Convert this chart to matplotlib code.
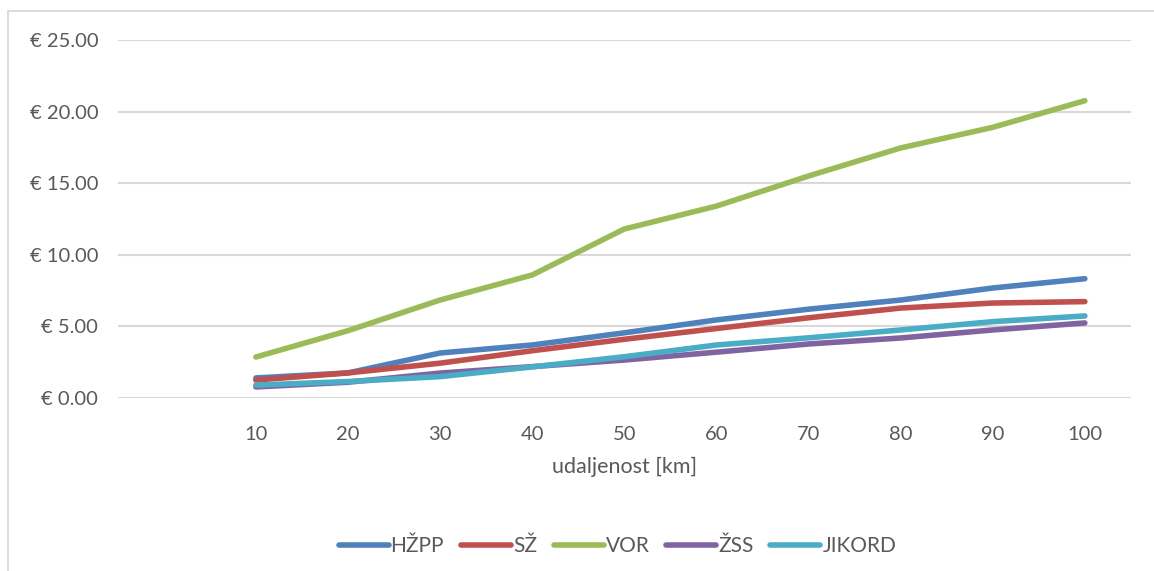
import matplotlib.pyplot as plt
import matplotlib.patches as patches
from matplotlib.ticker import FuncFormatter

plt.rcParams['font.family'] = ['Lato', 'DejaVu Sans']

# distance categories (first slot is blank in the source chart)
distance = ['', '10', '20', '30', '40', '50', '60', '70', '80', '90', '100']
km = [10, 20, 30, 40, 50, 60, 70, 80, 90, 100]

hzpp = [1.40, 1.75, 3.14, 3.70, 4.55, 5.45, 6.20, 6.84, 7.68, 8.33]
sz = [1.25, 1.75, 2.43, 3.30, 4.10, 4.85, 5.60, 6.28, 6.63, 6.73]
vor = [2.86, 4.70, 6.84, 8.59, 11.80, 13.40, 15.50, 17.46, 18.90, 20.76]
zss = [0.77, 1.10, 1.74, 2.19, 2.65, 3.20, 3.77, 4.19, 4.75, 5.24]
jikord = [0.90, 1.15, 1.49, 2.17, 2.88, 3.70, 4.20, 4.75, 5.33, 5.73]

series = [('HŽPP', hzpp, '#4F81BD'),
          ('SŽ', sz, '#C0504D'),
          ('VOR', vor, '#9BBB59'),
          ('ŽSS', zss, '#8064A2'),
          ('JIKORD', jikord, '#4BACC6')]

txt = '#595959'

fig = plt.figure(figsize=(11.54, 5.71), dpi=100)
ax = fig.add_axes([0.102, 0.303, 0.878, 0.627])

# light frame of the chart area (cut off at right and bottom in the source)
fig.patches.append(patches.Rectangle((0.0065, -0.1), 1.2, 0.1 + 0.980, transform=fig.transFigure,
                                     fill=False, edgecolor='#D9D9D9', linewidth=1.3))

xpos = [distance.index(str(k)) for k in km]
for name, vals, col in series:
    ax.plot(xpos, vals, color=col, linewidth=4.0, solid_capstyle='round',
            solid_joinstyle='round', label=name, zorder=3)

ax.set_xlim(-0.5, len(distance) - 0.5)
ax.set_ylim(0, 25)
ax.set_yticks([0, 5, 10, 15, 20, 25])
ax.yaxis.set_major_formatter(FuncFormatter(lambda v, p: f'€ {v:.2f}'))
ax.set_xticks(range(len(distance)))
ax.set_xticklabels(distance)
ax.grid(axis='y', color='#D9D9D9', linewidth=1.5)
ax.set_axisbelow(True)
for s in ax.spines.values():
    s.set_visible(False)
ax.tick_params(length=0, colors=txt, labelsize=14.5)
ax.tick_params(axis='x', pad=20)
ax.tick_params(axis='y', pad=14)
ax.set_xlabel('udaljenost [km]', color=txt, fontsize=15.5, labelpad=10)

fig.legend(loc='center', bbox_to_anchor=(0.535, 0.044), ncol=5, frameon=False,
           fontsize=15, labelcolor=txt, handlelength=2.4, handletextpad=0.1,
           columnspacing=0.8)

plt.savefig('out.png', dpi=100)
